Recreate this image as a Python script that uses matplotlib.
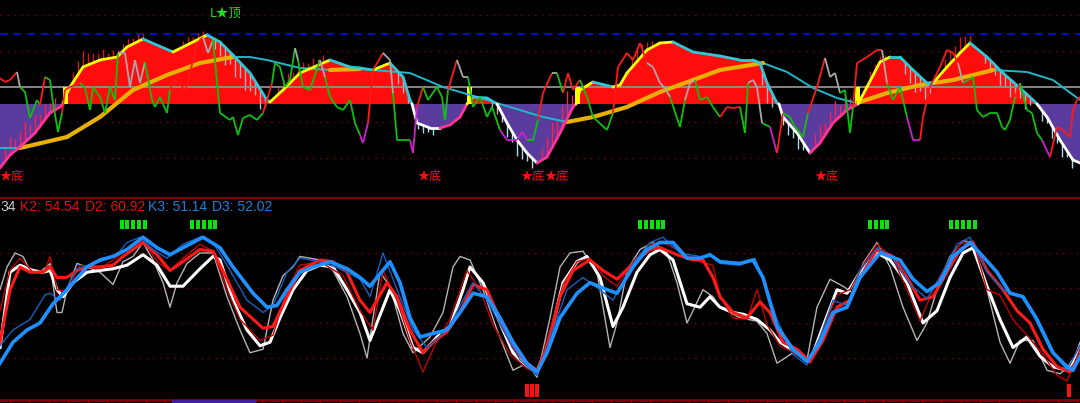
import numpy as np
import matplotlib
matplotlib.use("Agg")
import matplotlib.pyplot as plt
from matplotlib.collections import LineCollection

plt.rcParams['font.family'] = ['Liberation Sans', 'Noto Sans CJK SC', 'DejaVu Sans']

# ---------------- 上方主图数据 (t = 时间序号) ----------------
main_x = [0, 10, 20, 35, 50, 60, 63, 65, 70, 83,
          100, 117, 127, 143, 173, 177, 203, 207, 220, 233,
          250, 267, 270, 283, 300, 330, 350, 360, 373, 390,
          403, 410, 412, 417, 430, 440, 450, 460, 467, 473,
          487, 497, 507, 517, 527, 537, 547, 560, 573, 576,
          580, 593, 613, 620, 627, 647, 660, 673, 693, 720,
          740, 753, 760, 767, 777, 779, 783, 797, 810, 820,
          833, 847, 858, 867, 880, 890, 900, 913, 927, 933,
          947, 960, 970, 987, 1003, 1020, 1033, 1037, 1047, 1060,
          1073, 1080]
main_v = [-64, -51, -43, -29, -9, -3, 0, 7, 17, 37,
          44, 47, 57, 65, 52, 54, 67, 69, 62, 49,
          31, 4, 2, 14, 31, 44, 37, 36, 34, 41,
          27, 4, 0, -19, -24, -24, -21, -13, 0, 7,
          6, 0, -19, -36, -49, -59, -53, -29, -3, 0,
          14, 22, 17, 19, 31, 54, 61, 62, 52, 48,
          44, 44, 41, 21, 1, 0, -13, -29, -49, -39,
          -19, -6, 0, 17, 42, 47, 47, 34, 21, 21,
          37, 51, 61, 47, 31, 16, 4, 0, -13, -36,
          -56, -59]

slow_x = [0, 20, 67, 100, 133, 167, 200, 233, 250, 267,
          300, 330, 360, 410, 443, 477, 510, 543, 567, 593,
          627, 660, 693, 720, 763, 787, 813, 837, 857, 887,
          920, 953, 993, 1027, 1053, 1080]
slow_v = [-44, -44, -33, -13, 14, 29, 41, 47, 47, 44,
          36, 34, 35, 31, 17, 7, -3, -13, -18, -13,
          -3, 12, 24, 34, 41, 32, 16, 6, 1, 11,
          19, 24, 34, 32, 24, 4]

fast_x = [0, 5, 10, 17, 20, 25, 30, 37, 40, 45,
          50, 53, 58, 62, 65, 70, 80, 85, 90, 93,
          100, 105, 110, 115, 118, 125, 130, 135, 140, 145,
          152, 155, 160, 167, 170, 173, 180, 185, 190, 197,
          203, 208, 213, 220, 230, 233, 238, 243, 250, 257,
          263, 267, 272, 275, 280, 285, 290, 295, 298, 303,
          310, 320, 325, 330, 337, 343, 350, 355, 360, 363,
          368, 373, 383, 390, 393, 397, 410, 413, 417, 423,
          428, 437, 442, 445, 448, 457, 463, 468, 473, 480,
          487, 492, 500, 507, 517, 522, 527, 533, 538, 543,
          552, 557, 563, 568, 573, 580, 587, 593, 607, 613,
          618, 627, 633, 640, 647, 653, 660, 665, 670, 680,
          685, 690, 695, 700, 707, 713, 720, 727, 733, 740,
          745, 748, 753, 757, 762, 770, 777, 783, 790, 795,
          803, 808, 817, 825, 830, 835, 840, 845, 850, 853,
          857, 867, 877, 882, 887, 893, 900, 907, 913, 920,
          923, 930, 940, 947, 953, 958, 963, 973, 977, 983,
          990, 997, 1002, 1005, 1010, 1015, 1020, 1027, 1032, 1037,
          1042, 1050, 1057, 1063, 1070, 1073, 1077, 1080]
fast_v = [26, 22, 24, 32, 17, 12, -14, 4, -1, 27,
          24, 1, -28, -9, 14, 17, 21, 16, -6, 17,
          7, -9, 17, 4, 51, 51, 17, 44, 21, 42,
          4, -3, 7, -9, 14, 24, 21, 12, 31, 61,
          67, 51, 64, -9, -16, -13, -31, -14, -11, -16,
          -9, 4, 21, 41, 37, 17, 24, 56, 44, 17,
          14, 44, 27, 7, -3, -6, 4, -19, -31, -39,
          -19, 34, 51, 44, 11, -36, -36, -49, -3, 17,
          4, 17, 7, -16, 14, 44, 27, 27, -3, 7,
          -13, -3, -26, -36, -36, -28, -36, -36, -16, 11,
          31, 31, 11, 31, 14, 24, 7, -13, -26, -9,
          37, 51, 44, 61, 41, 37, 21, 16, 7, -23,
          4, 21, 24, 4, 7, -3, -13, -3, -4, -3,
          -29, 21, 24, 17, -19, -23, -49, -9, -13, -23,
          -33, -9, 17, 46, 27, 31, 11, 14, -29, -3,
          41, 47, 54, 54, 21, 4, 17, -13, -36, -36,
          -13, 17, 37, 54, 51, 41, 21, 27, -6, -13,
          -9, -9, -23, -26, -16, 7, 21, -6, -9, -29,
          -36, -53, -23, -26, -33, -6, 4, 7]

red_spans = [(0, 17), (40, 47), (62, 82), (170, 205), (262, 273), (317, 322),
             (366, 385), (416, 425), (447, 458), (536, 550), (565, 582), (612, 645),
             (720, 742), (780, 786), (806, 827), (852, 880), (921, 956),
             (1013, 1022), (1052, 1080)]
gray_spans = [(17, 20), (117, 147), (205, 215), (293, 300), (322, 326), (385, 392),
              (458, 470), (550, 560), (645, 668), (683, 697), (748, 760), (827, 838),
              (880, 886), (956, 966)]
magenta_spans = [(358, 366), (410, 416), (500, 525), (772, 780), (910, 921), (1040, 1052)]

stick_x = [5, 10, 15, 20, 25, 30, 35, 40, 45, 50, 55,
           73, 78, 83, 88, 93, 98, 103, 108, 113, 118, 123, 128, 133, 138, 143,
           183, 188, 193, 198, 203,
           215, 220, 225, 230, 235, 240, 245, 250, 255, 260, 265,
           278, 283, 288, 293, 298, 303, 308, 313, 318, 323,
           398, 403, 408,
           418, 423, 428, 433,
           492, 497, 502, 507, 512, 517, 522, 527, 532,
           542, 547, 552, 557, 562, 567, 572,
           632, 637, 642, 647, 652,
           762, 767, 772,
           783, 788, 793, 798, 803,
           815, 820, 825, 830, 835, 840, 845, 850,
           865, 870, 875, 880, 885,
           905, 910, 915, 920, 925, 930,
           945, 950, 955, 960, 965, 970,
           985, 990, 995, 1000, 1005, 1010, 1015, 1020, 1025, 1030,
           1042, 1047, 1052, 1057, 1062, 1067, 1072]
stick_len = [14, 18, 12, 16, 20, 14, 18, 12, 16, 10, 12,
             10, 14, 16, 12, 10, 8, 10, 6, 8, 6, 7, 8, 6, 8, 5,
             6, 8, 5, 7, 6,
             -10, -14, -18, -12, -20, -16, -22, -18, -14, -20, -10,
             8, 10, 12, 8, 6, 10, 7, 9, 6, 8,
             -12, -16, -10,
             -6, -8, -5, -7,
             -6, -10, -8, -14, -10, -16, -12, -8, -10,
             12, 20, 26, 18, 24, 28, 14,
             10, 14, 12, 8, 6,
             -16, -20, -14,
             -8, -12, -10, -14, -8,
             14, 18, 12, 16, 20, 12, 16, 10,
             6, 10, 8, 6, 5,
             -12, -16, -20, -14, -18, -10,
             10, 14, 12, 16, 12, 8,
             -8, -12, -10, -16, -12, -18, -14, -10, -16, -8,
             -10, -6, -12, -8, -14, -6, -10]

cross_up_x = [63, 467, 575, 855]
gray_level = 17
top_dotted = [89, 53, -18, -54]
top_dashed = 70
bottom_mark_x = [0, 418, 521, 545, 815]
top_mark_x = 210

# ---------------- 下方副图数据 (KDJ) ----------------
k1_x = [0, 7, 15, 23, 30, 40, 50, 57, 62, 67, 77, 87, 100, 113, 123, 133, 143, 153, 163, 170,
        177, 187, 200, 213, 227, 240, 250, 263, 273, 283, 293, 300, 320, 333, 347, 360, 367, 380, 390, 403,
        413, 430, 443, 453, 460, 470, 483, 497, 513, 527, 537, 550, 560, 570, 583, 597, 610, 617, 627, 640,
        653, 667, 677, 687, 693, 703, 713, 720, 740, 757, 767, 777, 793, 807, 817, 830, 843, 853, 863, 877,
        890, 903, 917, 927, 940, 950, 963, 973, 987, 1000, 1010, 1020, 1033, 1047, 1060, 1073, 1080]
k1_v = [59, 72, 80, 78, 70, 69, 74, 46, 46, 59, 74, 72, 69, 62, 75, 78, 86, 76, 63, 49,
        63, 74, 80, 80, 55, 36, 23, 25, 53, 67, 72, 78, 76, 70, 55, 34, 20, 69, 61, 34,
        23, 32, 46, 72, 78, 76, 59, 36, 13, 17, 9, 43, 72, 80, 81, 69, 26, 40, 70, 82,
        86, 80, 63, 40, 47, 59, 55, 49, 43, 41, 34, 17, 23, 19, 49, 65, 61, 57, 74, 86,
        72, 49, 30, 40, 65, 78, 87, 86, 59, 29, 17, 30, 30, 13, 11, 17, 29]

d1_x = [0, 10, 20, 33, 43, 50, 57, 63, 73, 87, 100, 113, 127, 143, 157, 170, 183, 200, 213, 220,
        233, 247, 260, 270, 280, 293, 307, 320, 333, 347, 360, 370, 390, 400, 413, 423, 437, 450, 463, 470,
        483, 500, 513, 527, 537, 550, 563, 577, 587, 600, 613, 623, 637, 650, 660, 673, 687, 700, 710, 720,
        733, 743, 757, 770, 780, 797, 810, 823, 837, 847, 860, 877, 890, 907, 923, 937, 950, 963, 973, 987,
        1000, 1013, 1027, 1040, 1053, 1067, 1080]
d1_v = [26, 69, 73, 70, 69, 70, 59, 55, 63, 69, 70, 71, 73, 79, 73, 61, 61, 71, 78, 76,
        53, 36, 27, 29, 43, 59, 70, 73, 72, 59, 46, 30, 59, 47, 26, 23, 32, 38, 59, 72,
        63, 40, 23, 15, 12, 32, 63, 75, 78, 66, 38, 49, 69, 79, 82, 76, 51, 49, 55, 49,
        46, 45, 42, 36, 29, 23, 18, 38, 59, 57, 69, 80, 76, 63, 40, 47, 66, 80, 83, 61,
        42, 26, 32, 21, 15, 13, 25]

k2_x = [0, 10, 20, 33, 45, 50, 57, 67, 80, 100, 113, 127, 143, 157, 170, 183, 200, 213, 227, 240,
        260, 273, 287, 300, 320, 343, 360, 373, 383, 397, 410, 423, 437, 450, 467, 480, 493, 510, 527, 537,
        550, 563, 577, 590, 603, 617, 633, 650, 663, 680, 700, 713, 720, 733, 747, 757, 767, 780, 797, 810,
        823, 837, 850, 863, 877, 893, 907, 920, 933, 947, 960, 973, 987, 1000, 1013, 1027, 1043, 1057, 1067, 1080]
k2_v = [47, 70, 77, 69, 70, 78, 59, 58, 73, 71, 76, 82, 87, 75, 70, 77, 85, 81, 59, 42,
        30, 33, 59, 73, 75, 67, 47, 36, 70, 53, 30, 12, 30, 42, 70, 59, 39, 22, 14, 11,
        36, 62, 75, 77, 67, 61, 75, 85, 86, 81, 75, 73, 55, 43, 42, 59, 39, 27, 22, 17,
        36, 56, 59, 73, 85, 77, 59, 41, 59, 74, 85, 87, 59, 56, 42, 33, 22, 10, 7, 25]

d2_x = [0, 10, 20, 30, 43, 50, 57, 67, 77, 87, 100, 113, 123, 143, 157, 170, 183, 200, 213, 227,
        240, 263, 273, 287, 300, 320, 333, 347, 360, 370, 387, 397, 410, 423, 433, 447, 460, 473, 487, 500,
        513, 527, 537, 547, 560, 573, 590, 603, 617, 633, 650, 660, 677, 693, 703, 713, 720, 733, 747, 760,
        770, 783, 797, 810, 823, 837, 850, 860, 877, 893, 907, 920, 933, 947, 960, 973, 987, 1003, 1017, 1030,
        1043, 1057, 1070, 1080]
d2_v = [29, 59, 72, 69, 69, 72, 66, 66, 70, 72, 72, 73, 78, 86, 79, 70, 75, 82, 81, 65,
        49, 37, 38, 55, 70, 76, 75, 69, 53, 46, 63, 55, 36, 23, 29, 35, 46, 62, 59, 42,
        26, 17, 13, 26, 55, 70, 76, 70, 65, 74, 82, 83, 79, 76, 76, 66, 55, 46, 43, 52,
        46, 29, 25, 18, 30, 49, 53, 66, 82, 78, 66, 53, 55, 69, 82, 86, 70, 59, 47, 40,
        25, 15, 12, 21]

k3_x = [0, 13, 30, 45, 50, 60, 77, 100, 117, 127, 140, 153, 167, 183, 200, 213, 227, 247, 263, 273,
        287, 300, 320, 340, 360, 370, 383, 397, 413, 427, 447, 463, 473, 487, 503, 520, 537, 553, 567, 583,
        600, 613, 633, 650, 663, 680, 700, 713, 720, 740, 755, 767, 777, 793, 807, 820, 833, 847, 860, 877,
        893, 910, 927, 943, 957, 970, 987, 1003, 1020, 1033, 1050, 1067, 1080]
k3_v = [27, 36, 42, 56, 57, 53, 71, 75, 79, 86, 89, 82, 77, 85, 89, 86, 73, 53, 46, 50,
        69, 77, 75, 71, 65, 55, 80, 59, 36, 26, 36, 53, 63, 53, 36, 19, 10, 36, 59, 66,
        59, 53, 74, 86, 89, 80, 78, 78, 74, 73, 77, 59, 42, 22, 16, 32, 53, 50, 70, 83,
        77, 62, 54, 69, 85, 89, 69, 59, 56, 45, 25, 13, 27]

d3_x = [0, 13, 27, 40, 53, 67, 87, 100, 113, 127, 143, 157, 170, 183, 203, 220, 233, 253, 267, 277,
        287, 300, 313, 330, 347, 360, 370, 390, 400, 410, 420, 433, 447, 460, 473, 487, 500, 513, 527, 537,
        547, 560, 577, 590, 607, 617, 633, 647, 660, 673, 687, 700, 710, 720, 740, 753, 763, 777, 793, 807,
        820, 833, 847, 860, 880, 900, 913, 927, 940, 953, 970, 983, 997, 1010, 1023, 1037, 1053, 1067, 1073, 1080]
d3_v = [17, 29, 36, 40, 51, 59, 72, 76, 78, 82, 89, 83, 79, 83, 89, 83, 72, 57, 49, 50,
        59, 69, 72, 75, 71, 66, 61, 75, 63, 43, 32, 34, 36, 46, 57, 55, 43, 29, 17, 12,
        23, 43, 57, 63, 59, 57, 72, 82, 86, 86, 77, 77, 79, 75, 74, 76, 66, 38, 25, 18,
        29, 46, 49, 66, 80, 76, 65, 58, 63, 78, 86, 78, 69, 57, 55, 42, 23, 15, 13, 21]

kdj_levels = [80, 60, 40, 20]
sell_x = [122, 127, 133, 139, 145, 192, 198, 204, 210, 215,
          640, 646, 652, 658, 663, 870, 876, 882, 887, 951, 957, 963, 969, 975]
buy_x = [527, 532, 537, 1069]
legend_items = [('34', '#c8c8c8'), ('K2: 54.54', '#e01010'), ('D2: 60.92', '#e01010'),
                ('K3: 51.14', '#1f7fd8'), ('D3: 52.02', '#1f7fd8')]
legend_x = [0, 20, 85, 148, 212]

DARK_RED = '#800000'


def seg_lines(x, y):
    pts = np.column_stack([x, y]).astype(float)
    return np.stack([pts[:-1], pts[1:]], axis=1)


def in_spans(t, spans):
    return any(a <= t < b for a, b in spans)


fig = plt.figure(figsize=(10.8, 4.03), dpi=100, facecolor='black')
ax_top = fig.add_axes([0, 1 - 198 / 403, 1, 198 / 403])
ax_bot = fig.add_axes([0, 3 / 403, 1, 202 / 403])
for ax in (ax_top, ax_bot):
    ax.set_facecolor('black')
    ax.set_xlim(0, 1080)
    ax.set_yticks([])
    for s in ax.spines.values():
        s.set_visible(False)

# ================= 上方主图 =================
ax_top.set_ylim(-94, 104)
ax_top.set_xticks([])
for lv in top_dotted:
    ax_top.axhline(lv, color=DARK_RED, lw=1, ls=(0, (1, 4)), zorder=0)
ax_top.axhline(top_dashed, color='#0010c8', lw=1.4, ls=(0, (4, 3)), zorder=0)

mx = np.array(main_x, dtype=float)
mv = np.array(main_v, dtype=float)
ax_top.fill_between(mx, mv, 0, where=mv >= 0, interpolate=True, color='#ff0c0c', lw=0, zorder=1)
ax_top.fill_between(mx, mv, 0, where=mv <= 0, interpolate=True, color='#5a3c9e', lw=0, zorder=1)

# 竖线
base = np.interp(stick_x, mx, mv)
tips = base + np.array(stick_len)
st_cols = []
for b, l in zip(base, stick_len):
    if b >= 0:
        st_cols.append('#d01818' if l > 0 else '#c8b0b8')
    else:
        st_cols.append('#ff2050' if l > 0 else '#a8e0f0')
ax_top.vlines(stick_x, base, tips, colors=st_cols, lw=1, zorder=2)

ax_top.axhline(gray_level, color='#909090', lw=1.3, zorder=3)
ax_top.bar(cross_up_x, gray_level, width=5, bottom=0, color='#ffff00', align='edge', zorder=3)

# 慢线
sx = np.array(slow_x, dtype=float)
sv = np.array(slow_v, dtype=float)
segs = seg_lines(sx, sv)
rising = np.diff(sv) > 0
ax_top.add_collection(LineCollection(segs[~rising], colors='#20b8c8', linewidths=1.4, zorder=4))
ax_top.add_collection(LineCollection(segs[rising], colors='#e8b000', linewidths=3.0, zorder=4,
                                     capstyle='round'))

# 主线边缘
segs = seg_lines(mx, mv)
cols = []
for i in range(len(mx) - 1):
    up = mv[i + 1] > mv[i]
    mid = (mv[i] + mv[i + 1]) / 2
    if mid >= 0:
        cols.append('#ffff00' if up else '#30c8d8')
    else:
        cols.append('#ff3399' if up else '#ffffff')
ax_top.add_collection(LineCollection(segs, colors=cols, linewidths=2, zorder=5, capstyle='round'))

# 快线
fx = np.array(fast_x, dtype=float)
fv = np.array(fast_v, dtype=float)
segs = seg_lines(fx, fv)
cols = []
for i in range(len(fx) - 1):
    mid = (fx[i] + fx[i + 1]) / 2
    if in_spans(mid, red_spans):
        cols.append('#ff1a1a')
    elif in_spans(mid, gray_spans):
        cols.append('#a8a8a8')
    elif in_spans(mid, magenta_spans):
        cols.append('#d020d0')
    else:
        cols.append('#10c010')
ax_top.add_collection(LineCollection(segs, colors=cols, linewidths=1.3, zorder=6))

for bx in bottom_mark_x:
    ax_top.text(bx, -72, '★底', color='#ff1010', fontsize=8.7, ha='left', va='center',
                family=['Noto Sans CJK SC', 'DejaVu Sans'], zorder=7)
ax_top.text(top_mark_x, 91, 'L★顶', color='#20e020', fontsize=9, ha='left', va='center',
            family=['Noto Sans CJK SC', 'DejaVu Sans'], zorder=7)

# ================= 下方副图 =================
ax_bot.set_ylim(-4, 111.4)
ax_bot.spines['top'].set_visible(True)
ax_bot.spines['top'].set_color(DARK_RED)
ax_bot.spines['top'].set_linewidth(1.6)
ax_bot.spines['bottom'].set_visible(True)
ax_bot.spines['bottom'].set_color(DARK_RED)
ax_bot.spines['bottom'].set_linewidth(2)
ax_bot.set_xticks(np.arange(10, 1080, 19.4))
ax_bot.tick_params(axis='x', colors=DARK_RED, length=3, width=1, labelbottom=False)
for lv in kdj_levels:
    ax_bot.axhline(lv, color=DARK_RED, lw=1, ls=(0, (1, 4)), zorder=0)

ax_bot.plot(k1_x, k1_v, color='#b4b4b4', lw=1.0, zorder=2)
ax_bot.plot(d1_x, d1_v, color='#ffffff', lw=2.2, zorder=3)
ax_bot.plot(k2_x, k2_v, color='#c00000', lw=1.0, zorder=4)
ax_bot.plot(d2_x, d2_v, color='#ff1a1a', lw=2.2, zorder=5)
ax_bot.plot(k3_x, k3_v, color='#1460c0', lw=1.0, zorder=6)
ax_bot.plot(d3_x, d3_v, color='#1e90ff', lw=2.6, zorder=7)

ax_bot.bar(sell_x, 5.2, width=4.6, bottom=93.7, color='#10e010', zorder=8)
ax_bot.bar(buy_x, 7.4, width=4.6, bottom=-2.3, color='#ff1010', zorder=8)

for (txt, c), lx in zip(legend_items, legend_x):
    ax_bot.text(lx, 106.3, txt, color=c, fontsize=10, ha='left', va='center', zorder=9)

ax_bot.add_patch(plt.Rectangle((172, -4), 83, -1.8, color='#4020a0', clip_on=False, zorder=9))

fig.savefig('out.png', dpi=100, facecolor='black')
